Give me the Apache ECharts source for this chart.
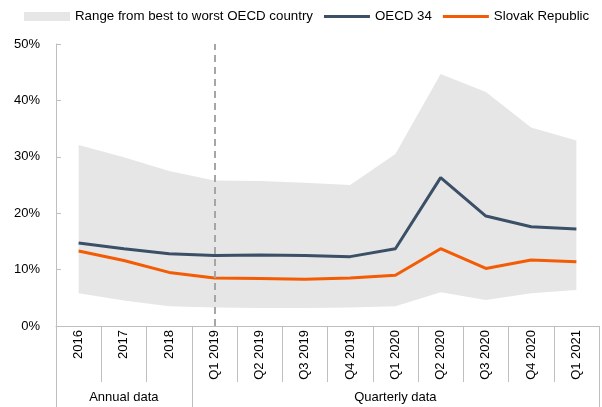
<!DOCTYPE html>
<html>
<head>
<meta charset="utf-8">
<script src="https://cdn.jsdelivr.net/npm/echarts@6/dist/echarts.min.js"></script>
<style>
html,body{margin:0;padding:0;background:#fff;}
#chart{width:602px;height:407px;}
</style>
</head>
<body>
<div id="chart"></div>
<script>
var categories = ['2016','2017','2018','Q1 2019','Q2 2019','Q3 2019','Q4 2019','Q1 2020','Q2 2020','Q3 2020','Q4 2020','Q1 2021'];
var groupLabels = ['', 'Annual data', '', '', '', '', '', 'Quarterly data', '', '', '', ''];
var groupStarts = [0, 3];
var rangeMin = [5.8, 4.5, 3.5, 3.3, 3.2, 3.2, 3.3, 3.5, 6.0, 4.6, 5.8, 6.4];
var rangeMax = [32.1, 29.9, 27.5, 25.8, 25.7, 25.4, 25.0, 30.5, 44.7, 41.5, 35.2, 32.9];
var oecd = [14.7, 13.7, 12.8, 12.5, 12.6, 12.5, 12.3, 13.7, 26.3, 19.5, 17.6, 17.2];
var slovak = [13.3, 11.6, 9.5, 8.5, 8.4, 8.3, 8.5, 9.0, 13.7, 10.2, 11.7, 11.4];
var yTicks = [0, 10, 20, 30, 40, 50];

var rangeName = 'Range from best to worst OECD country';
var rangeDiff = rangeMax.map(function (v, i) { return +(v - rangeMin[i]).toFixed(2); });

var chart = echarts.init(document.getElementById('chart'), null, {renderer: 'canvas'});
var font = 'Liberation Sans, Arial, sans-serif';
var axisGray = '#bfbfbf';
var lineIcon = 'path://M0,0L0,0ZM0,3L48,3L48,6L0,6ZM48,9L48,9Z';

chart.setOption({
  animation: false,
  textStyle: {fontFamily: font},
  grid: {left: 56, right: 3, top: 44, bottom: 81, containLabel: false},
  legend: {
    left: 24, top: 10, padding: 0,
    itemWidth: 46, itemHeight: 9, itemGap: 11,
    textStyle: {fontSize: 13.3, color: '#000', fontFamily: font},
    data: [
      {name: rangeName, icon: 'rect', itemStyle: {color: '#e6e6e6'}},
      {name: 'OECD 34', icon: lineIcon, itemStyle: {color: '#3b4f66'}},
      {name: 'Slovak Republic', icon: lineIcon, itemStyle: {color: '#f35b04'}}
    ]
  },
  xAxis: [
    {
      type: 'category', data: categories, boundaryGap: true, position: 'bottom',
      axisLine: {lineStyle: {color: axisGray, width: 1}},
      axisTick: {show: true, interval: 0, length: 56, lineStyle: {color: axisGray}},
      axisLabel: {interval: 0, rotate: 90, margin: 4, fontSize: 13, color: '#000', fontFamily: font}
    },
    {
      type: 'category', data: groupLabels, boundaryGap: true, position: 'bottom',
      axisLine: {show: false},
      axisTick: {show: true, length: 81, lineStyle: {color: axisGray},
        interval: function (i) { return groupStarts.indexOf(i) >= 0; }},
      axisLabel: {interval: 0, margin: 65, fontSize: 13, color: '#000', fontFamily: font}
    }
  ],
  yAxis: {
    type: 'value', min: 0, max: 50, interval: 10,
    axisLine: {show: true, lineStyle: {color: axisGray}},
    axisTick: {show: true, inside: true, length: 5, lineStyle: {color: axisGray}},
    splitLine: {show: false},
    axisLabel: {formatter: '{value}%', fontSize: 13, color: '#000', margin: 16, fontFamily: font}
  },
  series: [
    {
      name: 'rangeBase', type: 'line', data: rangeMin, stack: 'range',
      symbol: 'none', lineStyle: {width: 0, opacity: 0}, silent: true, z: 1
    },
    {
      name: rangeName, type: 'line', data: rangeDiff, stack: 'range',
      symbol: 'none', lineStyle: {width: 0, opacity: 0},
      itemStyle: {color: '#e6e6e6'},
      areaStyle: {color: '#e6e6e6', opacity: 1}, silent: true, z: 1
    },
    {
      name: 'OECD 34', type: 'line', data: oecd, symbol: 'none',
      itemStyle: {color: '#3b4f66'},
      lineStyle: {color: '#3b4f66', width: 3}, z: 3,
      markLine: {
        silent: true, symbol: ['none', 'none'], label: {show: false},
        lineStyle: {color: '#a6a6a6', width: 2, type: [7, 5]},
        data: [{xAxis: 2.5}]
      }
    },
    {
      name: 'Slovak Republic', type: 'line', data: slovak, symbol: 'none',
      itemStyle: {color: '#f35b04'},
      lineStyle: {color: '#f35b04', width: 3}, z: 4
    }
  ]
});
</script>
</body>
</html>
